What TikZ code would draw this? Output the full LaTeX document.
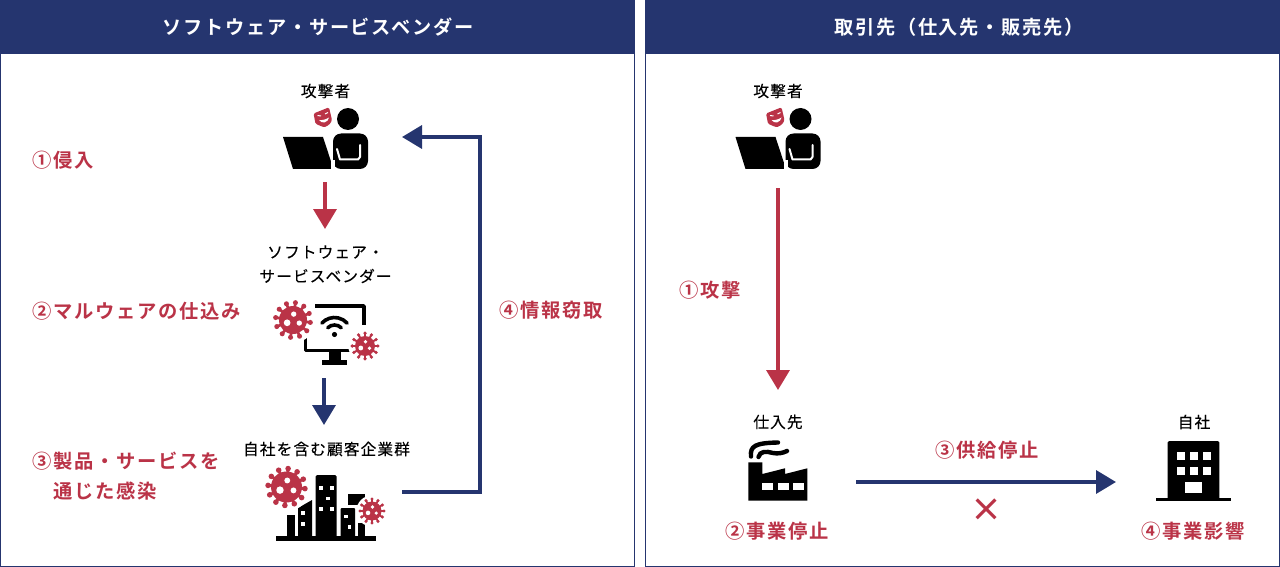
\documentclass[tikz,border=0pt]{standalone}
\usepackage{fontspec}
\usetikzlibrary{arrows.meta}
\newfontfamily\jpbold[LetterSpace=9,BoldFont={Noto Sans CJK JP Bold}]{Noto Sans CJK JP}
\newfontfamily\jpreg[LetterSpace=7,FakeBold=0.15]{Noto Sans CJK JP}
\definecolor{navy}{HTML}{25356F}
\definecolor{crim}{HTML}{BA3347}
\tikzset{
  panel/.style={draw=navy,line width=1pt,fill=white},
  band/.style={fill=navy,draw=none},
  headtext/.style={inner sep=0pt,text=white,font=\jpbold\bfseries\fontsize{19.2}{18}\selectfont},
  redtext/.style={inner sep=0pt,anchor=west,text=crim,font=\jpbold\bfseries\fontsize{19.3}{19}\selectfont},
  blacktext/.style={inner sep=0pt,text=black,font=\jpreg\fontsize{15.7}{15}\selectfont},
  redarrow/.style={draw=crim,line width=3.5pt,-{Triangle[width=23pt,length=20pt]}},
  bluearrow/.style={draw=navy,line width=3.5pt,-{Triangle[width=23pt,length=20pt]}},
}
% #1,#2 centre, #3 body radius, #4 outer radius, #5 rotation
\newcommand{\avirus}[5]{%
  \begin{scope}[shift={(#1,#2)}]
    \fill[white] (0,0) circle[radius=#4*1.3];
    \foreach \ang in {0,30,...,330}{
      \draw[crim,line width=#3*0.19pt] (0,0) -- ({#4*cos(\ang+#5)},{#4*sin(\ang+#5)});
      \fill[crim] ({#4*cos(\ang+#5)},{#4*sin(\ang+#5)}) circle[radius=#3*0.18];
    }
    \fill[crim] (0,0) circle[radius=#3];
    \fill[white] ({-#3*0.42},{#3*0.2}) circle[radius=#3*0.24];
    \fill[white] ({#3*0.05},{-#3*0.42}) circle[radius=#3*0.19];
    \fill[white] ({#3*0.45},{#3*0.22}) circle[radius=#3*0.19];
  \end{scope}}
\newcommand{\hacker}[1]{%
  \begin{scope}[shift={(#1,0)}]
    \fill (348,119) circle[radius=11];
    \fill (283,137) -- (323,137) -- (333.5,169) -- (293,169) -- cycle;
    \fill[rounded corners=8pt] (333,169) -- (333,133.5) -- (368,133.5) -- (368,169) -- cycle;
    \draw[white,line width=2pt,line cap=round,line join=round] (337,149) -- (340,159.5) -- (358,159.5) -- (360,157) -- (360,145);
    \fill[white] (331,160) rectangle (335,169);
    \fill[crim,rounded corners=1.5pt] (313.5,113.5) -- (329,107.3) -- (332,120) .. controls (330,125) and (325,127.5) .. (322,126.5) .. controls (318,125) and (315.5,124) .. (315,121) -- cycle;
    \draw[white,line width=1pt] (317.5,115.5) -- (321,116);
    \draw[white,line width=1pt] (325,114) -- (328,112.5);
    \fill[white] (319,120) .. controls (322,120.5) and (326,119.5) .. (329,117.5) .. controls (328,122.5) and (322,124.5) .. (319,120) -- cycle;
  \end{scope}}
\begin{document}
\begin{tikzpicture}[x=1pt,y=-1pt]
\useasboundingbox (0,0) rectangle (1280,567);
\fill[white] (0,0) rectangle (1280,567);
% panels
\draw[panel] (0.5,0.5) rectangle (634.5,566.5);
\draw[panel] (645.5,0.5) rectangle (1279.5,566.5);
\fill[band] (0,0) rectangle (635,54);
\fill[band] (645,0) rectangle (1280,54);
\node[headtext] (h1) at (318,27) {ソフトウェア・サービスベンダー};
\node[headtext] (h2) at (959,27) {取引先（仕入先・販売先）};
% text left
\node[blacktext] (a1) at (325.5,91) {攻撃者};
\node[blacktext] (v1) at (325.5,252) {ソフトウェア・};
\node[blacktext] (v2) at (325.5,276) {サービスベンダー};
\node[blacktext] (c1) at (326.5,449) {自社を含む顧客企業群};
\node[redtext] (r1) at (32,160) {①侵入};
\node[redtext] (r2) at (32,311) {②マルウェアの仕込み};
\node[redtext] (r3) at (32,461) {③製品・サービスを};
\node[redtext] (r3b) at (53,491) {通じた感染};
\node[redtext] (r4) at (499,310) {④情報窃取};
% text right
\node[blacktext] (a2) at (778,91) {攻撃者};
\node[blacktext] (s1) at (778,422) {仕入先};
\node[blacktext] (o1) at (1194,422) {自社};
\node[redtext] (q1) at (679,290) {①攻撃};
\node[redtext] (q2) at (725,531) {②事業停止};
\node[redtext] (q3) at (935,450) {③供給停止};
\node[redtext] (q4) at (1141,531) {④事業影響};
\node[inner sep=0pt,text=crim,font=\jpbold\bfseries\fontsize{32}{32}\selectfont] (xm) at (986.5,510) {×};
% attackers
\hacker{0}
\hacker{452.5}
% monitor
\draw[line width=3.8pt,line join=round] (315,306) -- (364,306) -- (364,325);
\draw[line width=3.8pt,line join=round] (305.5,338) -- (305.5,350.5) -- (350,350.5);
\fill (329,350) rectangle (341,361);
\fill (322,360) rectangle (347,364.5);
\fill (334.5,334.5) circle[radius=2.6];
\draw[line width=3.6pt,line cap=round] (334.5,334.5) ++(225:9.5) arc[start angle=225,end angle=315,radius=9.5] ;
\draw[line width=3.6pt,line cap=round] (334.5,334.5) ++(222:17) arc[start angle=222,end angle=318,radius=17];
\avirus{293}{320}{14}{17.5}{8}
\avirus{365}{346}{10}{12.8}{0}
% city
\fill (276,536) rectangle (376,540.7);
\fill[rounded corners=1.5pt] (315.7,475) rectangle (336.7,538);
\fill (287,515) rectangle (294.5,538);
\fill (298,508) -- (312,500) -- (312,538) -- (298,538) -- cycle;
\fill[rounded corners=1pt] (340.5,508) rectangle (355,538);
\fill (348,493.5) -- (365,493.5) -- (365,505) -- (348,505) -- cycle;
\fill (358,523) rectangle (365,538);
\foreach \wx/\wy in {321/487.7,331.7/487.7,328/498.3,321/509,331.7/509,303/512.7,303/524,346/516.3,349.3/527}{
  \fill[white] (\wx-1.8,\wy-1.8) rectangle (\wx+1.8,\wy+1.8);
}
\avirus{286.5}{487}{15.5}{18.5}{5}
\avirus{372}{511}{9.5}{12}{0}
% factory
\fill (748.3,462.3) -- (762.3,462.3) -- (762.3,474) -- (785,468.3) -- (785,474) -- (807.3,468.3) -- (807.3,500.7) -- (748.3,500.7) -- cycle;
\foreach \wx in {762.3,777.5,792.6}{
  \fill[white] (\wx,483.3) rectangle (\wx+11,490);
}
\draw[line width=4.4pt,line cap=round] (751,456.5) .. controls (750,446) and (755,443) .. (778,442.5);
\draw[line width=4.4pt,line cap=round] (758.5,457) .. controls (760,451) and (766,451) .. (773,453) .. controls (778,454) and (783,453) .. (787,451);
% office
\fill[rounded corners=1.5pt] (1167.7,441) rectangle (1219.3,503);
\fill (1155.7,497.7) rectangle (1230.7,501);
\fill[white] (1150,501) rectangle (1235,505);
\foreach \wx in {1176.7,1189.5,1202.5}{
  \fill[white] (\wx,452.3) rectangle (\wx+8.2,460);
  \fill[white] (\wx,467.3) rectangle (\wx+8.2,475);
}
\fill[white] (1185,482.3) rectangle (1202.3,493.3);
% connector anchors
\coordinate (p1) at (325,182);
\coordinate (p2) at (325,229);
\coordinate (p3) at (324,378);
\coordinate (p4) at (324,425);
\coordinate (p5) at (402,492);
\coordinate (p6) at (480,492);
\coordinate (p7) at (480,137);
\coordinate (p8) at (402,137);
\coordinate (p9) at (778,188);
\coordinate (p10) at (778,390);
\coordinate (p11) at (856,482);
\coordinate (p12) at (1116,482);
\draw[redarrow] (p1) -- (p2);
\draw[bluearrow] (p3) -- (p4);
\draw[bluearrow,line join=miter] (p5) -- (p6) -- (p7) -- (p8);
\draw[redarrow] (p9) -- (p10);
\draw[bluearrow] (p11) -- (p12);
\end{tikzpicture}
\end{document}
